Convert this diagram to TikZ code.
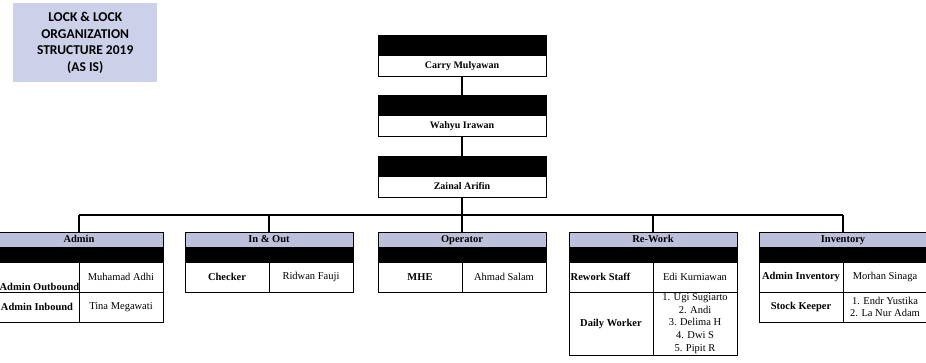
\documentclass[tikz,border=0pt]{standalone}
\usepackage{fontspec}
\setmainfont{Liberation Serif}
\newfontfamily\titlefont{Carlito}
\usetikzlibrary{calc}
\definecolor{hdrcol}{RGB}{188,192,218}
\definecolor{titlecol}{RGB}{204,208,232}
\begin{document}
\begin{tikzpicture}[x=1pt,y=-1pt,
  box/.style={draw, line width=0.9pt, inner sep=0pt, outer sep=0pt, anchor=north west},
  hdr/.style={box, fill=hdrcol, minimum width=168pt, minimum height=15pt, text height=7.3pt, text depth=2.2pt, font=\fontsize{10.5}{12}\selectfont\bfseries},
  blk/.style={box, fill=black, minimum width=168pt, minimum height=15pt},
  cell/.style={box, minimum width=84pt, minimum height=30pt, align=center, font=\fontsize{10.5}{12.8}\selectfont},
  bcell/.style={cell, font=\fontsize{10.5}{12.8}\selectfont\bfseries},
  topblk/.style={box, fill=black, minimum width=168pt, minimum height=20pt},
  topname/.style={box, minimum width=168pt, minimum height=21pt, text height=7pt, text depth=2pt, font=\fontsize{10}{12}\selectfont\bfseries},
  btext/.style={inner sep=1.5pt, font=\fontsize{10.5}{12.8}\selectfont\bfseries},
  conn/.style={line width=1.3pt},
  titlebox/.style={fill=titlecol, inner sep=0pt, anchor=north west, minimum width=144pt, minimum height=79pt, align=center, font=\titlefont\bfseries\fontsize{13.5}{16.5}\selectfont}
]
\useasboundingbox (0,0) rectangle (926,362);
\fill[white] (0,0) rectangle (926,362);

% title
\node[titlebox] (title) at (13,3) {LOCK \& LOCK\\ORGANIZATION\\STRUCTURE 2019\\(AS IS)};

% top chain
\node[topblk] (t1b) at (378,35) {};
\node[topname] (t1w) at (378,55) {Carry Mulyawan};
\node[topblk] (t2b) at (378,95) {};
\node[topname] (t2w) at (378,115) {Wahyu Irawan};
\node[topblk] (t3b) at (378,156) {};
\node[topname] (t3w) at (378,176) {Zainal Arifin};

% Admin
\node[hdr] (admH) at (-5,232) {Admin};
\node[blk] (admB) at (-5,247) {};
\node[cell] (admR1a) at (-5,262) {};
\node[cell] (admR1b) at (79,262) {Muhamad Adhi};
\node[bcell] (admR2a) at (-5,292) {Admin Inbound};
\node[cell] (admR2b) at (79,292) {Tina Megawati};
\node[btext, anchor=south, xshift=2.5pt] (admOut) at (admR1a.south) {Admin Outbound};

% In & Out
\node[hdr] (ioH) at (185,232) {In \& Out};
\node[blk] (ioB) at (185,247) {};
\node[bcell] (ioR1a) at (185,262) {Checker};
\node[cell] (ioR1b) at (269,262) {Ridwan Fauji};

% Operator
\node[hdr] (opH) at (378,232) {Operator};
\node[blk] (opB) at (378,247) {};
\node[bcell] (opR1a) at (378,262) {MHE};
\node[cell] (opR1b) at (462,262) {Ahmad Salam};

% Re-Work
\node[hdr] (rwH) at (569,232) {Re-Work};
\node[blk] (rwB) at (569,247) {};
\node[cell] (rwR1a) at (569,262) {};
\node[cell] (rwR1b) at (653,262) {Edi Kurniawan};
\node[bcell, minimum height=63pt] (rwR2a) at (569,292) {Daily Worker};
\node[cell, minimum height=63pt] (rwR2b) at (653,292) {1. Ugi Sugiarto\\2. Andi\\3. Delima H\\4. Dwi S\\5. Pipit R};
\node[btext, anchor=west] (rwStaff) at (rwR1a.west) {Rework Staff};

% Inventory
\node[hdr] (invH) at (759,232) {Inventory};
\node[blk] (invB) at (759,247) {};
\node[bcell] (invR1a) at (759,262) {Admin Inventory};
\node[cell] (invR1b) at (843,262) {Morhan Sinaga};
\node[bcell] (invR2a) at (759,292) {Stock Keeper};
\node[cell] (invR2b) at (843,292) {1. Endr Yustika\\2. La Nur Adam};

% connectors
\coordinate (bus) at (0,215);
\draw[conn] (t1w.south) -- (t2b.north);
\draw[conn] (t2w.south) -- (t3b.north);
\draw[conn] (t3w.south) -- (t3w.south |- bus);
\draw[conn] (admH.north |- bus) -- (invH.north |- bus);
\draw[conn] (admH.north |- bus) -- (admH.north);
\draw[conn] (ioH.north |- bus) -- (ioH.north);
\draw[conn] (opH.north |- bus) -- (opH.north);
\draw[conn] (rwH.north |- bus) -- (rwH.north);
\draw[conn] (invH.north |- bus) -- (invH.north);
\end{tikzpicture}
\end{document}
